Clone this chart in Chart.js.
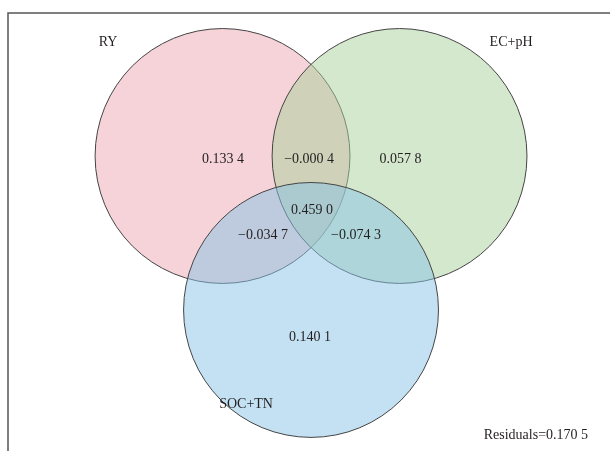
<!DOCTYPE html>
<html>
<head>
<meta charset="utf-8">
<script src="https://cdn.jsdelivr.net/npm/chart.js@4/dist/chart.umd.min.js"></script>
<style>
  html, body { margin: 0; padding: 0; background: #fff; }
  #wrap { width: 610px; height: 451px; }
</style>
</head>
<body>
<div id="wrap"><canvas id="venn"></canvas></div>
<script>
// variance partitioning values
const setNames = ['RY', 'EC+pH', 'SOC+TN'];
const regionNames = ['RY only', 'EC+pH only', 'SOC+TN only', 'RY & EC+pH', 'RY & SOC+TN', 'EC+pH & SOC+TN', 'all three'];
const regionValues = [0.1334, 0.0578, 0.1401, -0.0004, -0.0347, -0.0743, 0.4590];
const residualValue = 0.1705;

// venn layout in abstract units (one unit = distance between circle centres)
const LAYOUT = {
    circles: [
        { x: -0.5, y: 0, r: 0.72 },
        { x: 0.5, y: 0, r: 0.72 },
        { x: 0, y: -0.87, r: 0.72 }
    ],
    setLabels: [
        { x: -1.147, y: 0.64 },
        { x: 1.13, y: 0.64 },
        { x: -0.367, y: -1.405 }
    ],
    regionLabels: [
        { x: -0.497, y: -0.017 },
        { x: 0.506, y: -0.017 },
        { x: -0.006, y: -1.023 },
        { x: -0.011, y: -0.017 },
        { x: -0.271, y: -0.446 },
        { x: 0.254, y: -0.446 },
        { x: 0.006, y: -0.305 }
    ],
    residual: { x: 1.565, y: -1.58 }
};

const FILLS = ['rgba(236,168,178,0.5)', 'rgba(170,210,156,0.5)', 'rgba(136,196,232,0.5)'];
const FONT = '14px "Liberation Serif", "DejaVu Serif", serif';

function fmt(v) {
    const s = Math.abs(v).toFixed(4);
    const txt = s.slice(0, s.length - 1) + ' ' + s.slice(-1);
    return (v < 0 ? '\u2212' : '') + txt;
}

// circle radius in pixels, taken from the x scale
function unitRadius(chart, r) {
    const sx = chart.scales.x;
    if (!sx) return 0;
    const d = Math.abs(sx.getPixelForValue(r) - sx.getPixelForValue(0));
    return isFinite(d) ? d : 0;
}

const datasets = setNames.map((name, i) => ({
    label: name,
    data: [{ x: LAYOUT.circles[i].x, y: LAYOUT.circles[i].y }],
    order: setNames.length - i, // first set at the bottom, last on top
    showLine: false,
    clip: false,
    pointBackgroundColor: FILLS[i],
    pointBorderColor: '#444',
    pointBorderWidth: 1,
    pointRadius: ctx => unitRadius(ctx.chart, LAYOUT.circles[i].r)
}));

const vennText = {
    id: 'vennText',
    beforeDraw(chart) {
        const { ctx, chartArea } = chart;
        ctx.save();
        ctx.strokeStyle = '#555';
        ctx.lineWidth = 1.5;
        ctx.beginPath();
        ctx.moveTo(chartArea.left, chart.height);
        ctx.lineTo(chartArea.left, chartArea.top);
        ctx.lineTo(chart.width, chartArea.top);
        ctx.stroke();
        ctx.restore();
    },
    afterDatasetsDraw(chart) {
        const { ctx, scales } = chart;
        const px = p => [scales.x.getPixelForValue(p.x), scales.y.getPixelForValue(p.y)];
        ctx.save();
        ctx.fillStyle = '#231f20';
        ctx.font = FONT;
        ctx.textAlign = 'center';
        ctx.textBaseline = 'middle';

        setNames.forEach((name, i) => {
            const [x, y] = px(LAYOUT.setLabels[i]);
            ctx.fillText(name, x, y);
        });

        regionValues.forEach((v, i) => {
            const [x, y] = px(LAYOUT.regionLabels[i]);
            ctx.fillText(fmt(v), x, y);
        });

        const [rx, ry] = px(LAYOUT.residual);
        ctx.textAlign = 'right';
        ctx.fillText('Residuals=' + fmt(residualValue), rx, ry);
        ctx.restore();
    }
};

new Chart(document.getElementById('venn'), {
    type: 'scatter',
    data: { datasets },
    options: {
        responsive: true,
        maintainAspectRatio: false,
        animation: false,
        events: [],
        layout: { padding: { left: 8, top: 13, right: 0, bottom: 0 } },
        scales: {
            x: { type: 'linear', min: -1.712, max: 1.689, display: false },
            y: { type: 'linear', min: -1.667, max: 0.808, display: false }
        },
        plugins: {
            legend: { display: false },
            tooltip: { enabled: false }
        }
    },
    plugins: [vennText]
});
</script>
</body>
</html>
